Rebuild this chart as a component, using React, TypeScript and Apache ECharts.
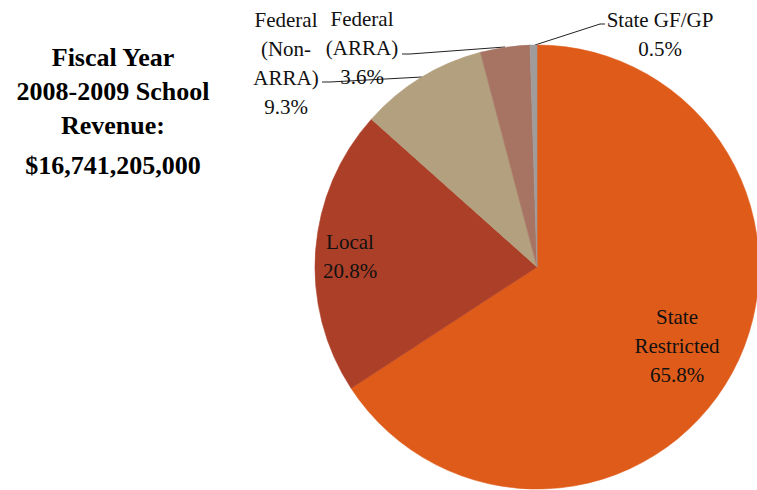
import React, { useEffect, useRef } from "react";
import * as echarts from "echarts";

const categories = ["State Restricted", "Local", "Federal (Non-ARRA)", "Federal (ARRA)", "State GF/GP"];
const labelTexts = ["State\nRestricted\n65.8%", "Local\n20.8%", "Federal\n(Non-\nARRA)\n9.3%", "Federal\n(ARRA)\n3.6%", "State GF/GP\n0.5%"];
const values = [65.8, 20.8, 9.3, 3.6, 0.5];
const colors = ["#DF5B1A", "#AC3F28", "#B3A07E", "#A77464", "#A09C9C"];
const titleLines = ["Fiscal Year", "2008-2009 School", "Revenue:", "$16,741,205,000"];

const labelPos: Record<number, { x: number; y: number; line?: number[][] }> = {
  0: { x: 677, y: 346 },
  1: { x: 350, y: 256 },
  2: { x: 286, y: 63, line: [[422, 77], [330, 82], [322, 82]] },
  3: { x: 362, y: 48, line: [[505, 47], [410, 54], [402, 54]] },
  4: { x: 660, y: 34, line: [[535, 45], [600, 24], [605, 24]] },
};

export default function App() {
  const ref = useRef<HTMLDivElement>(null);
  useEffect(() => {
    if (!ref.current) return;
    const chart = echarts.init(ref.current, undefined, { renderer: "svg" });
    const font = "Liberation Serif";
    chart.setOption({
      animation: false,
      backgroundColor: "#ffffff",
      graphic: [
        {
          type: "text",
          x: 113,
          y: 40,
          style: {
            text: titleLines.slice(0, 3).join("\n"),
            fontFamily: font,
            fontSize: 26,
            fontWeight: "bold",
            fill: "#000",
            lineHeight: 34,
            align: "center",
            verticalAlign: "top",
          },
        },
        {
          type: "text",
          x: 113,
          y: 148,
          style: {
            text: titleLines[3],
            fontFamily: font,
            fontSize: 26,
            fontWeight: "bold",
            fill: "#000",
            lineHeight: 34,
            align: "center",
            verticalAlign: "top",
          },
        },
      ],
      series: [
        {
          type: "pie",
          center: [537, 267],
          radius: [0, 222],
          startAngle: 90,
          clockwise: true,
          avoidLabelOverlap: false,
          label: {
            show: true,
            fontFamily: font,
            fontSize: 21,
            lineHeight: 29,
            color: "#111",
            align: "center",
            formatter: (p: any) => labelTexts[p.dataIndex],
          },
          labelLine: { show: true, lineStyle: { color: "#222", width: 1 }, smooth: false },
          labelLayout: (p: any) => {
            const lp = labelPos[p.dataIndex];
            const r: any = { x: lp.x, y: lp.y, align: "center", verticalAlign: "middle" };
            if (lp.line) r.labelLinePoints = lp.line;
            return r;
          },
          data: categories.map((name, i) => ({
            name,
            value: values[i],
            itemStyle: { color: colors[i], borderColor: colors[i], borderWidth: 0.6 },
            label: { position: i < 2 ? "inside" : "outside" },
            labelLine: { show: i >= 2 },
          })),
        },
      ],
    });
    return () => chart.dispose();
  }, []);
  return <div ref={ref} style={{ position: "fixed", left: 0, top: 0, width: 757, height: 490 }} />;
}
